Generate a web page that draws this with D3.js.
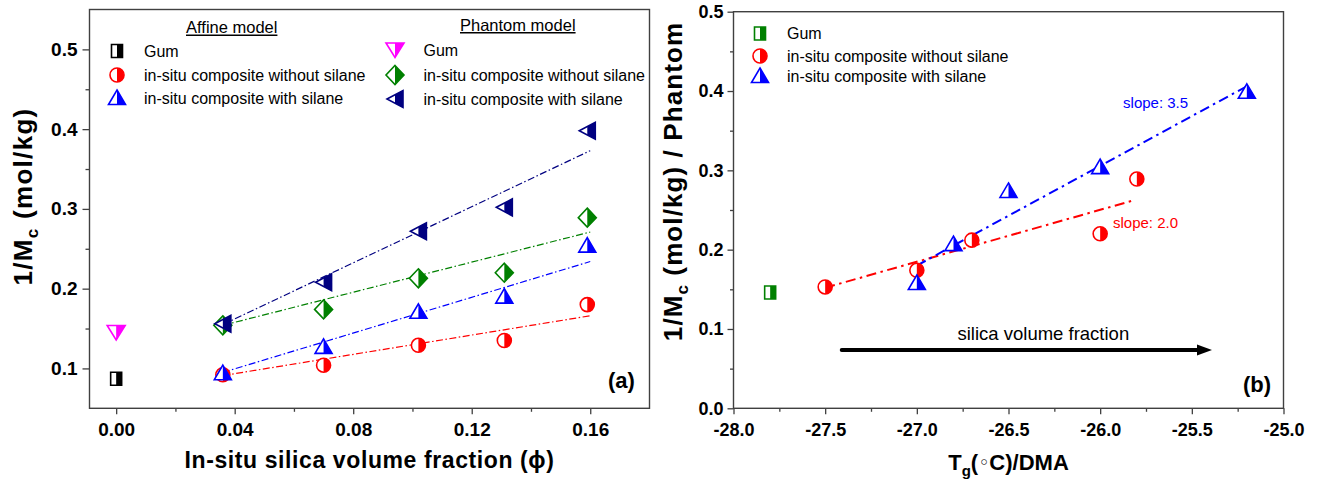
<!DOCTYPE html>
<html>
<head>
<meta charset="utf-8">
<script src="https://cdn.jsdelivr.net/npm/d3@7/dist/d3.min.js"></script>
<style>
  html, body { margin: 0; padding: 0; background: #fff; }
  svg { display: block; font-family: "Liberation Sans", Arial, Helvetica, sans-serif; }
</style>
</head>
<body>
<svg id="chart" width="1319" height="481"></svg>
<script>
// ---------------- DATA ----------------
// Panel (a): 1/Mc vs in-situ silica volume fraction
const phiValues = [0.036, 0.070, 0.102, 0.131, 0.159];
const gumPhi = [0];
const affineGum = [0.087];
const phantomGum = [0.145];
const affineNoSilane = [0.092, 0.104, 0.129, 0.135, 0.180];
const affineSilane = [0.094, 0.127, 0.171, 0.190, 0.254];
const phantomNoSilane = [0.154, 0.174, 0.213, 0.220, 0.289];
const phantomSilane = [0.156, 0.208, 0.272, 0.302, 0.398];
// fitted lines (end points)
const fitPhi = [0.036, 0.160];
const fitAffineNoSilane = [0.091, 0.166];
const fitAffineSilane = [0.095, 0.234];
const fitPhantomNoSilane = [0.154, 0.271];
const fitPhantomSilane = [0.155, 0.373];
const xTicksA = [0.00, 0.04, 0.08, 0.12, 0.16];
const xMinorA = [0.02, 0.06, 0.10, 0.14];
const yTicksA = [0.1, 0.2, 0.3, 0.4, 0.5];
const yMinorA = [0.15, 0.25, 0.35, 0.45];

// Panel (b): 1/Mc (Phantom) vs Tg
const tgGum = [-27.8];
const valGum = [0.146];
const tgNoSilane = [-27.5, -27.0, -26.7, -26.0, -25.8];
const valNoSilane = [0.153, 0.174, 0.212, 0.220, 0.289];
const tgSilane = [-27.0, -26.8, -26.5, -26.0, -25.2];
const valSilane = [0.158, 0.207, 0.274, 0.304, 0.399];
const fitNoSilaneTg = [-27.5, -25.82];
const fitNoSilaneVal = [0.152, 0.262];
const fitSilaneTg = [-27.0, -25.2];
const fitSilaneVal = [0.180, 0.406];
const xTicksB = [-28.0, -27.5, -27.0, -26.5, -26.0, -25.5, -25.0];
const xMinorB = [-27.75, -27.25, -26.75, -26.25, -25.75, -25.25];
const yTicksB = [0.0, 0.1, 0.2, 0.3, 0.4, 0.5];
const yMinorB = [0.05, 0.15, 0.25, 0.35, 0.45];

// ---------------- SETUP ----------------
const svg = d3.select("#chart");
const C = { red: "#ff0000", blue: "#0000ff", navy: "#000080", green: "#008000", magenta: "#ff00ff", black: "#000000" };
const axisColor = "#404040";

svg.append("defs").append("clipPath")
  .attr("id", "rightHalf")
  .attr("clipPathUnits", "objectBoundingBox")
  .append("rect").attr("x", 0.5).attr("y", -0.1).attr("width", 0.6).attr("height", 1.2);

const shapes = {
  square: "M-5.5,-6.5H5.5V6.5H-5.5Z",
  circle: "M-7,0A7,7 0 1,0 7,0A7,7 0 1,0 -7,0Z",
  up: "M0,-8L8.5,6.5H-8.5Z",
  down: "M-9,-7H9L0,7.5Z",
  left: "M-8,0L8,-8.5V8.5Z",
  diamond: "M0,-9.5L9,0L0,9.5L-9,0Z"
};

function whiteMarker(g, x, y, shape, color) {
  const m = g.append("g").attr("transform", `translate(${x},${y})`);
  m.append("path").attr("d", shapes[shape]).attr("fill", "#fff");
  m.append("path").attr("d", shapes[shape]).attr("fill", color).attr("clip-path", "url(#rightHalf)");
  m.append("path").attr("d", shapes[shape]).attr("fill", "none").attr("stroke", color).attr("stroke-width", 1.6);
  return m;
}

function styleAxis(g) {
  g.select(".domain").remove();
  g.selectAll(".tick line").attr("stroke", axisColor).attr("stroke-width", 1.3);
}

// ---------------- PANEL (a) ----------------
const xA = d3.scaleLinear().domain([-0.009, 0.18]).range([89.5, 649.5]);
const yA = d3.scaleLinear().domain([0.05, 0.55]).range([408.3, 9.5]);
const gA = svg.append("g");

const axA_xMaj = gA.append("g").attr("transform", `translate(0,${yA(0.05)})`)
  .call(d3.axisBottom(xA).tickValues(xTicksA).tickSize(6).tickFormat(d => d.toFixed(2)));
styleAxis(axA_xMaj);
axA_xMaj.selectAll("text").attr("y", 14.5).attr("dy", "0.71em")
  .attr("font-size", 19).attr("font-weight", "bold").attr("fill", "#000");
const axA_xMin = gA.append("g").attr("transform", `translate(0,${yA(0.05)})`)
  .call(d3.axisBottom(xA).tickValues(xMinorA).tickSize(3.5).tickFormat(""));
styleAxis(axA_xMin);

const axA_yMaj = gA.append("g").attr("transform", `translate(${xA(-0.009)},0)`)
  .call(d3.axisLeft(yA).tickValues(yTicksA).tickSize(7).tickPadding(5).tickFormat(d => d.toFixed(1)));
styleAxis(axA_yMaj);
axA_yMaj.selectAll("text").attr("font-size", 19).attr("font-weight", "bold").attr("fill", "#000");
const axA_yMin = gA.append("g").attr("transform", `translate(${xA(-0.009)},0)`)
  .call(d3.axisLeft(yA).tickValues(yMinorA).tickSize(4).tickFormat(""));
styleAxis(axA_yMin);

gA.append("rect")
  .attr("x", xA(-0.009)).attr("y", yA(0.55))
  .attr("width", xA(0.18) - xA(-0.009)).attr("height", yA(0.05) - yA(0.55))
  .attr("fill", "none").attr("stroke", axisColor).attr("stroke-width", 1.4);

gA.append("text")
  .attr("x", (xA(-0.009) + xA(0.18)) / 2).attr("y", 468)
  .attr("text-anchor", "middle").attr("font-size", 23).attr("font-weight", "bold")
  .attr("letter-spacing", 0.6)
  .text("In-situ silica volume fraction (\u03D5)");

const ytA = gA.append("text")
  .attr("transform", "translate(31.5,196.5) rotate(-90)")
  .attr("text-anchor", "middle").attr("font-size", 26).attr("font-weight", "bold")
  .attr("letter-spacing", 1.3);
ytA.append("tspan").text("1/M");
ytA.append("tspan").attr("font-size", 17).attr("dy", 6).text("c");
ytA.append("tspan").attr("dy", -6).text(" (mol/kg)");

const lineA = d3.line().x(d => xA(d[0])).y(d => yA(d[1]));
const fitsA = [
  [fitAffineNoSilane, C.red],
  [fitAffineSilane, C.blue],
  [fitPhantomNoSilane, C.green],
  [fitPhantomSilane, C.navy]
];
fitsA.forEach(([vals, col]) => {
  gA.append("path")
    .attr("d", lineA(fitPhi.map((p, i) => [p, vals[i]])))
    .attr("fill", "none").attr("stroke", col).attr("stroke-width", 1.2)
    .attr("stroke-dasharray", "7,2.5,1.5,2.5");
});

gumPhi.forEach((p, i) => whiteMarker(gA, xA(p), yA(affineGum[i]), "square", C.black));
gumPhi.forEach((p, i) => whiteMarker(gA, xA(p), yA(phantomGum[i]), "down", C.magenta));
const seriesA = [
  [affineNoSilane, "circle", C.red],
  [affineSilane, "up", C.blue],
  [phantomNoSilane, "diamond", C.green],
  [phantomSilane, "left", C.navy]
];
seriesA.forEach(([vals, shp, col]) => {
  phiValues.forEach((p, i) => whiteMarker(gA, xA(p), yA(vals[i]), shp, col));
});

function legendTitle(g, x, y, txt) {
  const t = g.append("text").attr("x", x).attr("y", y).attr("font-size", 16.5).attr("fill", "#000").text(txt);
  const w = t.node().getComputedTextLength();
  g.append("line").attr("x1", x).attr("x2", x + w).attr("y1", y + 2.3).attr("y2", y + 2.3)
    .attr("stroke", "#000").attr("stroke-width", 1.4);
}
function legendItem(g, mx, tx, y, shp, col, label) {
  whiteMarker(g, mx, y, shp, col);
  g.append("text").attr("x", tx).attr("y", y + 5.5).attr("font-size", 16).attr("fill", "#000").text(label);
}
legendTitle(gA, 186, 33, "Affine model");
legendTitle(gA, 460, 30.5, "Phantom model");
legendItem(gA, 117, 144, 51, "square", C.black, "Gum");
legendItem(gA, 117, 144, 75, "circle", C.red, "in-situ composite without silane");
legendItem(gA, 117, 144, 98, "up", C.blue, "in-situ composite with silane");
legendItem(gA, 395, 423.5, 50, "down", C.magenta, "Gum");
legendItem(gA, 395, 423.5, 75, "diamond", C.green, "in-situ composite without silane");
legendItem(gA, 395, 423.5, 99, "left", C.navy, "in-situ composite with silane");

gA.append("text").attr("x", 608).attr("y", 388).attr("font-size", 22).attr("font-weight", "bold").text("(a)");

// ---------------- PANEL (b) ----------------
const xB = d3.scaleLinear().domain([-28, -25]).range([733.5, 1283.5]);
const yB = d3.scaleLinear().domain([0, 0.5]).range([408.3, 11.7]);
const gB = svg.append("g");

const axB_xMaj = gB.append("g").attr("transform", `translate(0,${yB(0)})`)
  .call(d3.axisBottom(xB).tickValues(xTicksB).tickSize(6).tickFormat(d => d.toFixed(1)));
styleAxis(axB_xMaj);
axB_xMaj.selectAll("text").attr("y", 15).attr("dy", "0.71em")
  .attr("font-size", 18).attr("font-weight", "bold").attr("fill", "#000");
const axB_xMin = gB.append("g").attr("transform", `translate(0,${yB(0)})`)
  .call(d3.axisBottom(xB).tickValues(xMinorB).tickSize(3.5).tickFormat(""));
styleAxis(axB_xMin);

const axB_yMaj = gB.append("g").attr("transform", `translate(${xB(-28)},0)`)
  .call(d3.axisLeft(yB).tickValues(yTicksB).tickSize(6).tickPadding(4).tickFormat(d => d.toFixed(1)));
styleAxis(axB_yMaj);
axB_yMaj.selectAll("text").attr("font-size", 18).attr("font-weight", "bold").attr("fill", "#000");
const axB_yMin = gB.append("g").attr("transform", `translate(${xB(-28)},0)`)
  .call(d3.axisLeft(yB).tickValues(yMinorB).tickSize(3.5).tickFormat(""));
styleAxis(axB_yMin);

gB.append("rect")
  .attr("x", xB(-28)).attr("y", yB(0.5))
  .attr("width", xB(-25) - xB(-28)).attr("height", yB(0) - yB(0.5))
  .attr("fill", "none").attr("stroke", axisColor).attr("stroke-width", 1.4);

const xtB = gB.append("text")
  .attr("x", (xB(-28) + xB(-25)) / 2).attr("y", 470)
  .attr("text-anchor", "middle").attr("font-size", 22).attr("font-weight", "bold");
xtB.append("tspan").text("T");
xtB.append("tspan").attr("font-size", 15).attr("dy", 6).text("g");
xtB.append("tspan").attr("dy", -6).text("(");
xtB.append("tspan").attr("font-family", "DejaVu Sans").attr("font-size", 19).attr("font-weight", "normal").attr("dy", -1).text("\u25E6");
xtB.append("tspan").attr("dy", 1).text("C)/DMA");

const ytB = gB.append("text")
  .attr("transform", "translate(682,181.5) rotate(-90)")
  .attr("text-anchor", "middle").attr("font-size", 26).attr("font-weight", "bold")
  .attr("letter-spacing", 1.1);
ytB.append("tspan").text("1/M");
ytB.append("tspan").attr("font-size", 17).attr("dy", 6).text("c");
ytB.append("tspan").attr("dy", -6).text(" (mol/kg) / Phantom");

const lineB = d3.line().x(d => xB(d[0])).y(d => yB(d[1]));
gB.append("path")
  .attr("d", lineB(fitNoSilaneTg.map((t, i) => [t, fitNoSilaneVal[i]])))
  .attr("fill", "none").attr("stroke", C.red).attr("stroke-width", 2)
  .attr("stroke-dasharray", "10,4.5,2.5,4.5");
gB.append("path")
  .attr("d", lineB(fitSilaneTg.map((t, i) => [t, fitSilaneVal[i]])))
  .attr("fill", "none").attr("stroke", C.blue).attr("stroke-width", 2)
  .attr("stroke-dasharray", "10,4.5,2.5,4.5");

tgGum.forEach((t, i) => whiteMarker(gB, xB(t), yB(valGum[i]), "square", C.green));
tgNoSilane.forEach((t, i) => whiteMarker(gB, xB(t), yB(valNoSilane[i]), "circle", C.red));
tgSilane.forEach((t, i) => whiteMarker(gB, xB(t), yB(valSilane[i]), "up", C.blue));

gB.append("text").attr("x", xB(-25.875)).attr("y", yB(0.3785))
  .attr("font-size", 15).attr("fill", C.blue).text("slope: 3.5");
gB.append("text").attr("x", xB(-25.93)).attr("y", yB(0.227))
  .attr("font-size", 15).attr("fill", C.red).text("slope: 2.0");

const arrowY = yB(0.0735);
const ax0 = xB(-27.41), ax1 = xB(-25.39);
gB.append("line").attr("x1", ax0).attr("x2", ax1 - 12).attr("y1", arrowY).attr("y2", arrowY)
  .attr("stroke", "#000").attr("stroke-width", 3.8).attr("stroke-linecap", "round");
gB.append("path")
  .attr("d", `M${ax1},${arrowY}L${ax1 - 15},${arrowY - 5.5}L${ax1 - 15},${arrowY + 5.5}Z`)
  .attr("fill", "#000");
gB.append("text").attr("x", xB(-26.31)).attr("y", yB(0.086))
  .attr("text-anchor", "middle").attr("font-size", 18.5).attr("fill", "#000")
  .text("silica volume fraction");

legendItem(gB, 760, 787, 33.5, "square", C.green, "Gum");
legendItem(gB, 760, 787, 56, "circle", C.red, "in-situ composite without silane");
legendItem(gB, 760, 787, 76, "up", C.blue, "in-situ composite with silane");

gB.append("text").attr("x", 1243).attr("y", 392).attr("font-size", 22).attr("font-weight", "bold").text("(b)");
</script>
</body>
</html>
